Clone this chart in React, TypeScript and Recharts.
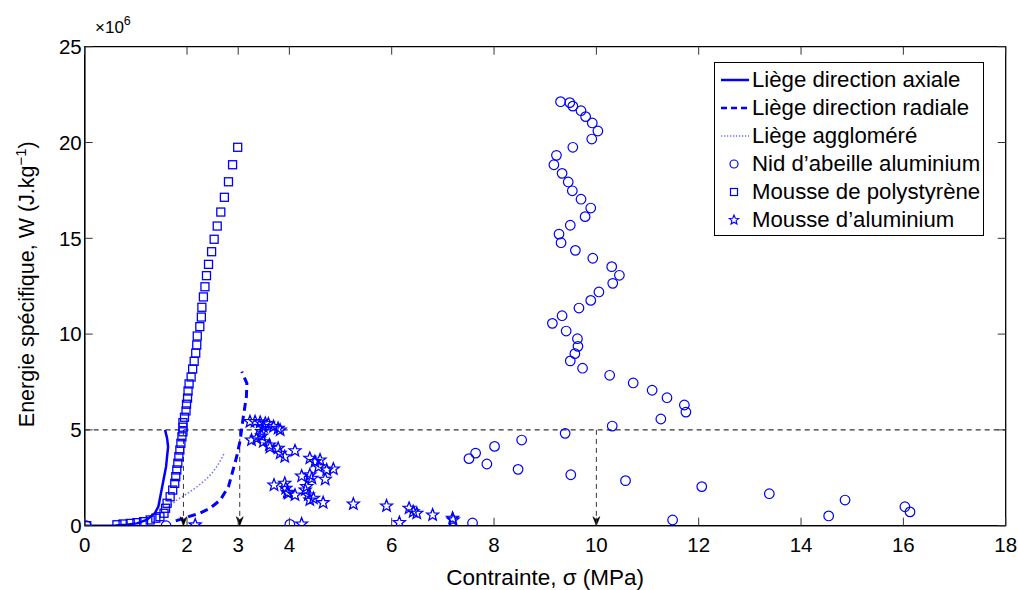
import React from 'react';
import {
  ComposedChart, Line, Scatter, XAxis, YAxis, ReferenceLine, ReferenceArea, Legend, Label,
} from 'recharts';

// ---- data (energy values in units of 10^6 J/kg) ----
const AXIAL_X = [0, 0.3, 0.6, 0.82, 1.02, 1.21, 1.37, 1.44, 1.49, 1.54, 1.59, 1.61, 1.63, 1.61, 1.57];
const AXIAL_Y = [0, 0, 0.01, 0.05, 0.12, 0.3, 0.65, 1.0, 1.69, 2.39, 3.08, 3.6, 4.12, 4.56, 5.0];

const RADIAL_X = [1.78, 2.03, 2.25, 2.45, 2.65, 2.81, 2.9, 2.97, 3.04, 3.07, 3.1, 3.13, 3.16, 3.17, 3.07];
const RADIAL_Y = [0.25, 0.47, 0.65, 0.91, 1.34, 2.04, 2.91, 3.6, 4.47, 5.1, 5.69, 6.21, 6.73, 7.43, 8.04];

const AGGLO_X = [1.58, 1.7, 1.8, 1.93, 2.06, 2.19, 2.32, 2.42, 2.51, 2.58, 2.64, 2.69, 2.73];
const AGGLO_Y = [0.82, 1.1, 1.34, 1.55, 1.78, 2.02, 2.3, 2.55, 2.82, 3.08, 3.34, 3.58, 3.81];

const HONEYCOMB_X = [9.3, 9.48, 9.54, 9.7, 9.79, 9.92, 10.03, 9.91, 9.54, 9.22, 9.17, 9.33, 9.45, 9.53, 9.7, 9.89, 9.78, 9.49, 9.27, 9.31, 9.59, 9.93, 10.3, 10.45, 10.32, 10.05, 9.89, 9.66, 9.33, 9.14, 9.41, 9.63, 9.64, 9.58, 9.49, 9.73, 10.26, 10.72, 11.09, 11.38, 11.72, 11.75, 11.26, 10.31, 9.39, 8.54, 8.01, 7.64, 7.51, 7.86, 8.47, 9.5, 10.57, 12.06, 13.38, 14.86, 16.03, 16.13, 14.54, 11.49, 7.58, 4.01, 1.59, 0.03];
const HONEYCOMB_Y = [22.13, 22.08, 21.9, 21.66, 21.35, 21.02, 20.6, 20.18, 19.75, 19.33, 18.84, 18.39, 17.94, 17.48, 17.04, 16.58, 16.13, 15.68, 15.22, 14.77, 14.37, 13.96, 13.52, 13.07, 12.65, 12.2, 11.76, 11.36, 10.96, 10.56, 10.16, 9.76, 9.36, 8.98, 8.6, 8.22, 7.85, 7.45, 7.07, 6.68, 6.3, 5.93, 5.57, 5.2, 4.82, 4.47, 4.14, 3.79, 3.5, 3.22, 2.94, 2.66, 2.35, 2.04, 1.67, 1.34, 0.99, 0.72, 0.51, 0.3, 0.14, 0.07, 0, 0];

const POLY_X = [0.04, 0.63, 0.75, 0.89, 1.02, 1.15, 1.28, 1.39, 1.47, 1.55, 1.58, 1.61, 1.67, 1.72, 1.76, 1.78, 1.8, 1.82, 1.84, 1.86, 1.88, 1.9, 1.92, 1.92, 1.92, 1.95, 1.98, 1.99, 2.01, 2.02, 2.04, 2.08, 2.11, 2.14, 2.17, 2.19, 2.2, 2.25, 2.28, 2.29, 2.32, 2.35, 2.38, 2.42, 2.48, 2.53, 2.59, 2.66, 2.73, 2.81, 2.89, 2.99];
const POLY_Y = [0, 0.05, 0.09, 0.12, 0.16, 0.21, 0.3, 0.39, 0.47, 0.65, 0.91, 1.17, 1.51, 1.86, 2.21, 2.56, 2.91, 3.26, 3.6, 3.95, 4.3, 4.64, 4.9, 5.14, 5.38, 5.66, 5.99, 6.34, 6.66, 7.03, 7.4, 7.76, 8.18, 8.58, 9.01, 9.43, 9.9, 10.39, 10.89, 11.4, 11.94, 12.47, 13.05, 13.64, 14.3, 14.95, 15.64, 16.37, 17.14, 17.95, 18.84, 19.75];

const ALU_X = [3.23, 3.33, 3.43, 3.53, 3.59, 3.69, 3.78, 3.82, 3.49, 3.46, 3.26, 3.36, 3.46, 3.49, 3.61, 3.62, 3.78, 3.82, 3.91, 4.11, 4.4, 4.5, 4.6, 4.57, 4.73, 4.86, 4.24, 4.4, 4.44, 4.7, 4.34, 4.31, 4.37, 4.4, 4.47, 4.66, 3.7, 3.91, 3.93, 3.96, 3.98, 4.11, 5.25, 5.9, 6.34, 6.42, 6.49, 6.8, 7.19, 7.2, 6.15, 4.24, 2.16];
const ALU_Y = [5.43, 5.43, 5.4, 5.34, 5.31, 5.17, 5.08, 4.99, 5.17, 4.91, 4.47, 4.56, 4.68, 4.38, 4.21, 4.09, 4.04, 3.78, 3.6, 3.91, 3.52, 3.34, 3.43, 3.08, 2.91, 2.96, 2.59, 2.65, 2.47, 2.42, 2.04, 1.86, 1.6, 1.34, 1.43, 1.2, 2.12, 2.21, 1.95, 1.74, 1.69, 1.6, 1.13, 1.03, 0.91, 0.73, 0.65, 0.56, 0.39, 0.3, 0.16, 0.09, 0.04];

const REF_LEVEL = 5;
const REF_STRESSES = [1.93, 3.03, 10];

const X_TICKS = [0, 2, 3, 4, 6, 8, 10, 12, 14, 16, 18];
const Y_TICKS = [0, 5, 10, 15, 20, 25];

const LEGEND_LABELS = [
  'Liège direction axiale',
  'Liège direction radiale',
  'Liège aggloméré',
  'Nid d\u2019abeille aluminium',
  'Mousse de polystyrène',
  'Mousse d\u2019aluminium',
];

const zip = (xs: number[], ys: number[]) => xs.map((x, i) => ({ x, y: ys[i] }));
const axialData = zip(AXIAL_X, AXIAL_Y);
const radialData = zip(RADIAL_X, RADIAL_Y);
const aggloData = zip(AGGLO_X, AGGLO_Y);
const honeyData = zip(HONEYCOMB_X, HONEYCOMB_Y);
const polyData = zip(POLY_X, POLY_Y);
const aluData = zip(ALU_X, ALU_Y);
const arrowData = REF_STRESSES.map((x) => ({ x, y: 0 }));

// ---- layout ----
const W = 1018;
const H = 590;
const PL = 84.7;
const PT = 46.7;
const PR = 1005.7;
const PB = 525.7;
const Y_AXIS_W = 60;
const X_AXIS_H = 40;
const TICK = 8;
const FONT = '"Liberation Sans", Arial, Helvetica, sans-serif';
const BLUE = '#0000ff';
const LIGHT_BLUE = '#7070ff';

const XTick = (p: any) => {
  const { x, y, payload } = p;
  return (
    <g>
      <line x1={x} x2={x} y1={y} y2={y - TICK} stroke="#333" strokeWidth={1} />
      <line x1={x} x2={x} y1={PT} y2={PT + TICK} stroke="#333" strokeWidth={1} />
      <text x={x} y={y + 26} textAnchor="middle" fontFamily={FONT} fontSize={20.5} fill="#000">
        {payload.value}
      </text>
    </g>
  );
};

const YTick = (p: any) => {
  const { x, y, payload } = p;
  return (
    <g>
      <line x1={x} x2={x + TICK} y1={y} y2={y} stroke="#333" strokeWidth={1} />
      <line x1={PR - TICK} x2={PR} y1={y} y2={y} stroke="#333" strokeWidth={1} />
      <text x={x - 3} y={y} dy="0.36em" textAnchor="end" fontFamily={FONT} fontSize={20.5} fill="#000">
        {payload.value}
      </text>
    </g>
  );
};

const YTitle = () => (
  <text
    transform={`translate(34, ${(PT + PB) / 2 - 2}) rotate(-90)`}
    textAnchor="middle"
    fontFamily={FONT}
    fontSize={21.5}
    fill="#000"
  >
    Energie spécifique, W (J.kg
    <tspan dy={-8} fontSize={15}>−1</tspan>
    <tspan dy={8}>)</tspan>
  </text>
);

const ExpLabel = () => (
  <text x={95} y={33} fontFamily={FONT} fontSize={17} fill="#000">
    ×10
    <tspan dy={-8} fontSize={12.5}>6</tspan>
  </text>
);

const XTitle = () => (
  <text x={(PL + PR) / 2} y={585} textAnchor="middle" fontFamily={FONT} fontSize={22.5} fill="#000">
    Contrainte, σ (MPa)
  </text>
);

const circleShape = (p: any) => (
  <circle cx={p.cx} cy={p.cy} r={4.8} fill="none" stroke={BLUE} strokeWidth={1.2} />
);
const squareShape = (p: any) => (
  <rect x={p.cx - 4} y={p.cy - 4} width={8} height={8} fill="none" stroke={BLUE} strokeWidth={1.3} />
);
const starPath = (cx: number, cy: number, ro: number, ri: number) => {
  let d = '';
  for (let i = 0; i < 10; i++) {
    const r = i % 2 === 0 ? ro : ri;
    const a = -Math.PI / 2 + (i * Math.PI) / 5;
    d += `${i === 0 ? 'M' : 'L'}${cx + r * Math.cos(a)},${cy + r * Math.sin(a)}`;
  }
  return d + 'Z';
};
const starShape = (p: any) => (
  <path d={starPath(p.cx, p.cy, 6.3, 2.7)} fill="none" stroke={BLUE} strokeWidth={1.3} />
);
const arrowShape = (p: any) => (
  <path
    d={`M${p.cx - 3.5},${p.cy - 9} L${p.cx},${p.cy} L${p.cx + 3.5},${p.cy - 9} L${p.cx},${p.cy - 6} Z`}
    fill="#000"
    stroke="#000"
    strokeWidth={0.6}
  />
);

const legendSample = (i: number) => {
  const cy = 14;
  switch (i) {
    case 0:
      return <line x1={6} x2={34} y1={cy} y2={cy} stroke={BLUE} strokeWidth={2.5} />;
    case 1:
      return <line x1={6} x2={34} y1={cy} y2={cy} stroke={BLUE} strokeWidth={2.5} strokeDasharray="6 4" />;
    case 2:
      return <line x1={6} x2={34} y1={cy} y2={cy} stroke={LIGHT_BLUE} strokeWidth={1.3} strokeDasharray="1.3 1.7" />;
    case 3:
      return <circle cx={19} cy={cy} r={4} fill="none" stroke={BLUE} strokeWidth={1.2} />;
    case 4:
      return <rect x={15.5} y={cy - 3.5} width={7} height={7} fill="none" stroke={BLUE} strokeWidth={1.2} />;
    default:
      return <path d={starPath(19, cy, 5, 2.2)} fill="none" stroke={BLUE} strokeWidth={1.1} />;
  }
};

const LegendBox = () => (
  <div
    style={{
      border: '1.3px solid #000',
      background: '#fff',
      width: 270,
      height: 174,
      boxSizing: 'border-box',
      paddingTop: 3,
      fontFamily: FONT,
      fontSize: 22.2,
      color: '#000',
    }}
  >
    {LEGEND_LABELS.map((label, i) => (
      <div key={i} style={{ display: 'flex', alignItems: 'center', height: 28 }}>
        <svg width={37} height={28} style={{ flex: 'none' }}>
          {legendSample(i)}
        </svg>
        <span style={{ whiteSpace: 'nowrap', lineHeight: '28px' }}>{label}</span>
      </div>
    ))}
  </div>
);

export default function App() {
  return (
    <div style={{ position: 'absolute', left: 0, top: 0, width: W, height: H, background: '#fff' }}>
      <ComposedChart
        width={W}
        height={H}
        margin={{ top: PT, right: W - PR, bottom: H - PB - X_AXIS_H, left: PL - Y_AXIS_W }}
      >
        <XAxis
          type="number"
          dataKey="x"
          domain={[0, 18]}
          ticks={X_TICKS}
          allowDataOverflow
          height={X_AXIS_H}
          tickSize={0}
          tickMargin={0}
          tickLine={false}
          axisLine={{ stroke: '#000', strokeWidth: 1.3 }}
          tick={XTick}
          interval={0}
        >
          <Label content={XTitle} />
        </XAxis>
        <YAxis
          type="number"
          dataKey="y"
          domain={[0, 25]}
          ticks={Y_TICKS}
          allowDataOverflow
          width={Y_AXIS_W}
          tickSize={0}
          tickMargin={0}
          tickLine={false}
          axisLine={{ stroke: '#000', strokeWidth: 1.3 }}
          tick={YTick}
          interval={0}
        >
          <Label content={YTitle} />
          <Label content={ExpLabel} />
        </YAxis>
        <ReferenceArea x1={0} x2={18} y1={0} y2={25} fill="none" fillOpacity={0} stroke="#000" strokeWidth={1.3} />
        <ReferenceLine y={REF_LEVEL} stroke="#000" strokeWidth={1} strokeDasharray="5 4" />
        {REF_STRESSES.map((s) => (
          <ReferenceLine
            key={s}
            segment={[{ x: s, y: REF_LEVEL }, { x: s, y: 0 }]}
            stroke="#333"
            strokeWidth={1}
            strokeDasharray="5 4"
          />
        ))}
        <Line data={axialData} dataKey="y" type="linear" stroke={BLUE} strokeWidth={2.5} dot={false} activeDot={false} isAnimationActive={false} />
        <Line data={radialData} dataKey="y" type="linear" stroke={BLUE} strokeWidth={3} strokeDasharray="8 5" dot={false} activeDot={false} isAnimationActive={false} />
        <Line data={aggloData} dataKey="y" type="linear" stroke={LIGHT_BLUE} strokeWidth={1.5} strokeDasharray="1.5 2" dot={false} activeDot={false} isAnimationActive={false} />
        <Scatter data={honeyData} dataKey="y" shape={circleShape} isAnimationActive={false} />
        <Scatter data={polyData} dataKey="y" shape={squareShape} isAnimationActive={false} />
        <Scatter data={aluData} dataKey="y" shape={starShape} isAnimationActive={false} />
        <Scatter data={arrowData} dataKey="y" shape={arrowShape} isAnimationActive={false} />
        <Legend
          layout="vertical"
          align="center"
          verticalAlign="middle"
          wrapperStyle={{ position: 'absolute', left: 714, top: 62, width: 270, height: 174 }}
          content={LegendBox}
        />
      </ComposedChart>
    </div>
  );
}
